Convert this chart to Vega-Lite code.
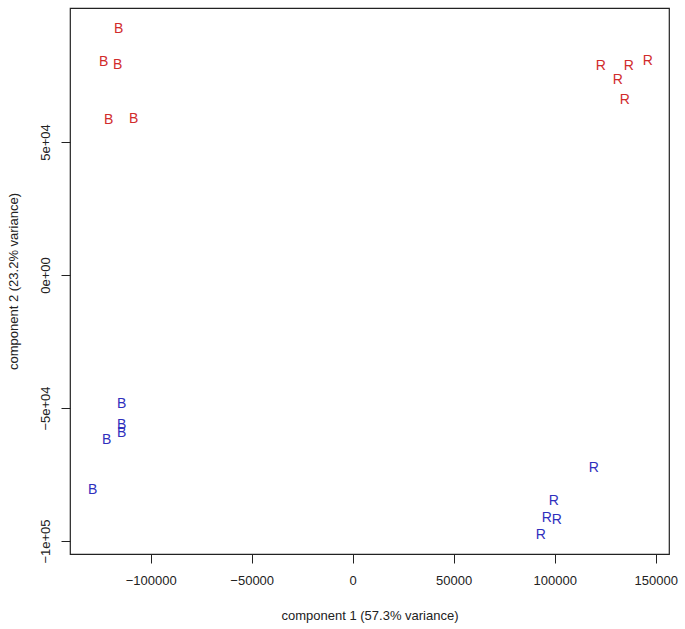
{
  "$schema": "https://vega.github.io/schema/vega-lite/v6.json",
  "width": 599,
  "height": 546,
  "autosize": {"type": "none"},
  "padding": {"left": 70, "top": 8, "right": 16, "bottom": 75},
  "background": "white",
  "config": {
    "font": "Liberation Sans",
    "view": {"stroke": "#222222", "strokeWidth": 1.2},
    "axis": {
      "grid": false,
      "domain": false,
      "tickColor": "#222222",
      "tickSize": 9,
      "tickWidth": 1,
      "labelFont": "Liberation Sans",
      "labelFontSize": 13,
      "labelColor": "#222222",
      "titleFont": "Liberation Sans",
      "titleFontSize": 13,
      "titleFontWeight": "normal",
      "titleColor": "#222222"
    }
  },
  "data": {
    "values": [
      {"x": -115842, "y": 92481, "label": "B", "grp": "red"},
      {"x": -123267, "y": 80075, "label": "B", "grp": "red"},
      {"x": -116337, "y": 78947, "label": "B", "grp": "red"},
      {"x": -120792, "y": 58271, "label": "B", "grp": "red"},
      {"x": -108416, "y": 58647, "label": "B", "grp": "red"},
      {"x": 122772, "y": 78571, "label": "R", "grp": "red"},
      {"x": 136634, "y": 78571, "label": "R", "grp": "red"},
      {"x": 146040, "y": 80451, "label": "R", "grp": "red"},
      {"x": 131188, "y": 73308, "label": "R", "grp": "red"},
      {"x": 134653, "y": 65789, "label": "R", "grp": "red"},
      {"x": -114356, "y": -48496, "label": "B", "grp": "blue"},
      {"x": -114356, "y": -56391, "label": "B", "grp": "blue"},
      {"x": -114356, "y": -59398, "label": "B", "grp": "blue"},
      {"x": -121782, "y": -62030, "label": "B", "grp": "blue"},
      {"x": -128713, "y": -80827, "label": "B", "grp": "blue"},
      {"x": 119307, "y": -72556, "label": "R", "grp": "blue"},
      {"x": 99505, "y": -84962, "label": "R", "grp": "blue"},
      {"x": 96040, "y": -91353, "label": "R", "grp": "blue"},
      {"x": 100990, "y": -92105, "label": "R", "grp": "blue"},
      {"x": 93069, "y": -97744, "label": "R", "grp": "blue"}
    ]
  },
  "mark": {"type": "text", "fontSize": 14, "font": "Liberation Sans", "align": "center", "baseline": "middle"},
  "encoding": {
    "x": {
      "field": "x",
      "type": "quantitative",
      "scale": {"domain": [-139950, 156584], "nice": false, "zero": false},
      "axis": {
        "values": [-100000, -50000, 0, 50000, 100000, 150000],
        "format": "d",
        "title": "component 1 (57.3% variance)",
        "labelPadding": 11,
        "titlePadding": 22
      }
    },
    "y": {
      "field": "y",
      "type": "quantitative",
      "scale": {"domain": [-104887, 100376], "nice": false, "zero": false},
      "axis": {
        "values": [-100000, -50000, 0, 50000],
        "labelExpr": "datum.value == 50000 ? '5e+04' : datum.value == 0 ? '0e+00' : datum.value == -50000 ? '\u22125e+04' : '\u22121e+05'",
        "labelAngle": -90,
        "labelAlign": "center",
        "labelBaseline": "bottom",
        "labelPadding": 9,
        "title": "component 2 (23.2% variance)",
        "titlePadding": 19
      }
    },
    "text": {"field": "label"},
    "color": {
      "field": "grp",
      "type": "nominal",
      "scale": {"domain": ["red", "blue"], "range": ["#d12b2b", "#2f2fbd"]},
      "legend": null
    }
  }
}
